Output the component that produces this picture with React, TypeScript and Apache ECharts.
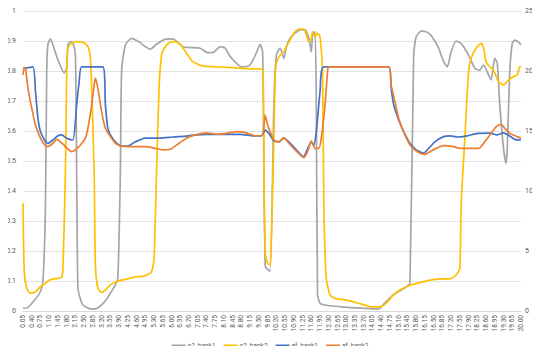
import React, { useEffect, useRef } from "react";
import * as echarts from "echarts";

// category labels: time in seconds, 0.05 step, 400 samples
const categories: string[] = Array.from({ length: 400 }, (_, i) => ((i + 1) * 0.05).toFixed(2));

const leftTicks = [0, 0.1, 0.2, 0.3, 0.4, 0.5, 0.6, 0.7, 0.8, 0.9, 1];
const rightTicks = [0, 5, 10, 15, 20, 25];

const seriesNames = ["o2_bank1", "o2_bank2", "af_bank1", "af_bank2"];

// o2_bank1 (left axis, volts)
const o2b1Idx = [0, 3, 10, 14, 16, 18, 19, 20, 22, 24, 28, 33, 35, 36, 38, 40, 42, 43, 44, 46, 48, 54, 58, 63, 67, 74, 76, 78, 79, 82, 87, 94, 96, 102, 107, 114, 120, 128, 134, 142, 148, 152, 158, 162, 166, 171, 175, 181, 185, 189, 190, 192, 193, 194, 195, 198, 201, 203, 206, 209, 211, 214, 218, 222, 226, 229, 231, 232, 234, 235, 236, 238, 242, 255, 274, 285, 289, 297, 307, 310, 313, 315, 319, 323, 327, 333, 337, 340, 343, 347, 351, 357, 362, 366, 369, 373, 375, 378, 380, 382, 385, 387, 388, 390, 392, 394, 397, 399];
const o2b1Val = [0.01, 0.01, 0.04, 0.065, 0.1, 0.35, 0.8, 0.89, 0.907, 0.887, 0.837, 0.794, 0.81, 0.887, 0.898, 0.893, 0.853, 0.46, 0.076, 0.04, 0.02, 0.007, 0.007, 0.02, 0.04, 0.087, 0.11, 0.46, 0.8, 0.887, 0.909, 0.895, 0.887, 0.873, 0.889, 0.906, 0.907, 0.881, 0.878, 0.876, 0.861, 0.861, 0.881, 0.876, 0.848, 0.826, 0.814, 0.817, 0.842, 0.881, 0.889, 0.864, 0.46, 0.153, 0.142, 0.133, 0.687, 0.853, 0.876, 0.842, 0.881, 0.909, 0.926, 0.937, 0.937, 0.909, 0.864, 0.92, 0.931, 0.687, 0.053, 0.026, 0.02, 0.014, 0.009, 0.007, 0.023, 0.055, 0.08, 0.092, 0.853, 0.914, 0.933, 0.931, 0.918, 0.876, 0.831, 0.814, 0.864, 0.9, 0.892, 0.853, 0.809, 0.803, 0.82, 0.787, 0.77, 0.842, 0.826, 0.687, 0.542, 0.492, 0.542, 0.798, 0.892, 0.903, 0.896, 0.887];

// o2_bank2 (left axis, volts)
const o2b2Idx = [0, 1, 3, 6, 10, 14, 18, 20, 24, 28, 31, 32, 34, 35, 36, 39, 43, 48, 52, 54, 55, 57, 58, 60, 63, 66, 70, 74, 79, 84, 90, 94, 98, 103, 105, 107, 109, 111, 114, 118, 122, 126, 131, 136, 144, 155, 168, 182, 192, 193, 194, 196, 198, 199, 201, 202, 203, 206, 209, 211, 214, 217, 221, 225, 227, 229, 231, 232, 234, 236, 238, 240, 241, 243, 246, 250, 258, 269, 279, 286, 291, 298, 307, 321, 334, 342, 347, 350, 351, 354, 357, 359, 363, 367, 369, 371, 374, 377, 381, 385, 389, 393, 396, 398, 399];
const o2b2Val = [0.359, 0.131, 0.076, 0.059, 0.064, 0.081, 0.092, 0.1, 0.107, 0.109, 0.114, 0.142, 0.464, 0.798, 0.876, 0.892, 0.898, 0.896, 0.881, 0.842, 0.742, 0.464, 0.153, 0.076, 0.062, 0.07, 0.087, 0.096, 0.103, 0.107, 0.114, 0.115, 0.118, 0.131, 0.176, 0.464, 0.742, 0.853, 0.881, 0.896, 0.898, 0.889, 0.859, 0.831, 0.817, 0.814, 0.811, 0.807, 0.806, 0.5, 0.2, 0.159, 0.153, 0.242, 0.576, 0.776, 0.826, 0.853, 0.864, 0.881, 0.903, 0.926, 0.94, 0.94, 0.92, 0.898, 0.909, 0.931, 0.914, 0.926, 0.914, 0.798, 0.353, 0.109, 0.053, 0.042, 0.037, 0.026, 0.014, 0.014, 0.026, 0.059, 0.081, 0.098, 0.107, 0.107, 0.12, 0.142, 0.353, 0.576, 0.798, 0.842, 0.876, 0.892, 0.876, 0.831, 0.814, 0.803, 0.764, 0.753, 0.77, 0.781, 0.787, 0.814, 0.814];

// af_bank1 (right axis, AFR)
const af1Idx = [0, 8, 10, 12, 14, 18, 20, 24, 28, 31, 35, 40, 43, 45, 47, 64, 66, 68, 71, 75, 79, 84, 90, 98, 110, 120, 131, 139, 147, 174, 185, 191, 194, 197, 201, 205, 209, 213, 218, 225, 227, 231, 233, 235, 238, 241, 293, 295, 297, 301, 305, 310, 315, 321, 325, 330, 337, 342, 348, 356, 364, 374, 380, 385, 390, 394, 399];
const af1Val = [20.2, 20.35, 18.3, 16.05, 14.95, 14.1, 13.98, 14.25, 14.6, 14.68, 14.4, 14.25, 17.2, 19.1, 20.35, 20.35, 17.2, 15.2, 14.5, 13.98, 13.75, 13.75, 14.1, 14.4, 14.4, 14.5, 14.58, 14.68, 14.72, 14.72, 14.6, 14.6, 15.08, 14.8, 14.18, 14.1, 14.4, 14.1, 13.55, 12.85, 13.28, 14.1, 13.83, 14.95, 18.28, 20.35, 20.35, 18.55, 17.18, 15.93, 14.95, 13.98, 13.43, 13.15, 13.55, 14.1, 14.53, 14.6, 14.5, 14.6, 14.8, 14.83, 14.68, 14.85, 14.58, 14.3, 14.25];

// af_bank2 (right axis, AFR)
const af2Idx = [0, 1, 2, 4, 7, 10, 14, 18, 20, 24, 27, 30, 34, 39, 42, 46, 50, 52, 55, 57, 58, 60, 63, 66, 70, 74, 78, 84, 98, 104, 112, 118, 123, 131, 138, 147, 155, 163, 171, 179, 186, 192, 194, 196, 198, 201, 205, 209, 213, 218, 225, 228, 231, 234, 237, 239, 242, 244, 245, 293, 295, 298, 301, 306, 311, 317, 322, 326, 331, 337, 345, 350, 365, 370, 375, 379, 383, 386, 390, 396, 399];
const af2Val = [19.68, 20.28, 20.22, 18.55, 16.9, 15.5, 14.4, 13.75, 13.7, 13.98, 14.3, 14.1, 13.7, 13.28, 13.43, 13.83, 14.4, 15.23, 17.18, 18.83, 19.4, 18.55, 16.6, 15.23, 14.53, 13.98, 13.75, 13.7, 13.7, 13.6, 13.43, 13.48, 13.83, 14.4, 14.68, 14.85, 14.73, 14.8, 14.95, 14.85, 14.6, 14.68, 16.33, 15.5, 14.95, 14.25, 14.1, 14.45, 13.98, 13.43, 12.78, 13.28, 14.18, 13.55, 13.55, 14.4, 17.18, 19.95, 20.35, 20.35, 18.83, 17.45, 16.05, 14.68, 13.7, 13.2, 13.05, 13.28, 13.55, 13.78, 13.7, 13.55, 13.55, 14.1, 14.8, 15.35, 15.55, 15.23, 14.8, 14.53, 14.4];

const colors = ["#A5A5A5", "#FFC000", "#4472C4", "#ED7D31"];

const pairs = (xs: number[], ys: number[]) => xs.map((x, i) => [x, ys[i]]);

export default function App() {
  const ref = useRef<HTMLDivElement>(null);
  useEffect(() => {
    if (!ref.current) return;
    const chart = echarts.init(ref.current, undefined, { renderer: "svg" });
    const font = "Roboto, 'Noto Sans', sans-serif";
    const series: any[] = [
      { xs: o2b1Idx, ys: o2b1Val, axis: 0 },
      { xs: o2b2Idx, ys: o2b2Val, axis: 0 },
      { xs: af1Idx, ys: af1Val, axis: 1 },
      { xs: af2Idx, ys: af2Val, axis: 1 },
    ].map((s, i) => ({
      name: seriesNames[i],
      type: "line",
      yAxisIndex: s.axis,
      data: pairs(s.xs, s.ys),
      symbol: "none",
      smooth: 0.2,
      lineStyle: { width: 1.7, color: colors[i] },
      itemStyle: { color: colors[i] },
      z: 2 + i,
    }));
    chart.setOption({
      animation: false,
      backgroundColor: "#ffffff",
      textStyle: { fontFamily: font },
      graphic: [
        {
          type: "rect",
          shape: { x: 3.5, y: 0.5, width: 534, height: 351 },
          style: { fill: "none", stroke: "#d9d9d9", lineWidth: 1 },
          silent: true,
        },
      ],
      grid: { left: 23, right: 19, top: 11, bottom: 43, containLabel: false },
      legend: {
        top: 337,
        left: "center",
        icon: "rect",
        itemWidth: 14,
        itemHeight: 2,
        itemGap: 8,
        textStyle: { fontSize: 6.5, color: "#595959", fontFamily: font, padding: [0, 0, 0, -3] },
        data: seriesNames,
      },
      xAxis: {
        type: "category",
        data: categories,
        boundaryGap: false,
        axisLine: { show: true, lineStyle: { color: "#d9d9d9" } },
        axisTick: { show: false },
        axisLabel: {
          interval: 6,
          rotate: 90,
          fontSize: 6.5,
          color: "#595959",
          margin: 4,
          fontFamily: font,
        },
        splitLine: { show: false },
      },
      yAxis: [
        {
          type: "value",
          min: 0,
          max: 1,
          interval: 0.1,
          axisLine: { show: false },
          axisTick: { show: false },
          axisLabel: {
            fontSize: 7,
            color: "#595959",
            margin: 7,
            fontFamily: font,
            formatter: (v: number) => {
              const t = leftTicks.find((k) => Math.abs(k - v) < 1e-6);
              return t === undefined ? "" : String(t);
            },
          },
          splitLine: { show: true, lineStyle: { color: "#e3e3e3", width: 1 } },
        },
        {
          type: "value",
          min: 0,
          max: 25,
          interval: 5,
          position: "right",
          axisLine: { show: false },
          axisTick: { show: false },
          axisLabel: {
            fontSize: 7,
            color: "#595959",
            margin: 4,
            fontFamily: font,
            formatter: (v: number) => {
              const t = rightTicks.find((k) => Math.abs(k - v) < 1e-6);
              return t === undefined ? "" : String(t);
            },
          },
          splitLine: { show: false },
        },
      ],
      series,
    });
    return () => chart.dispose();
  }, []);
  return <div ref={ref} style={{ width: 540, height: 354, margin: -8 }} />;
}
